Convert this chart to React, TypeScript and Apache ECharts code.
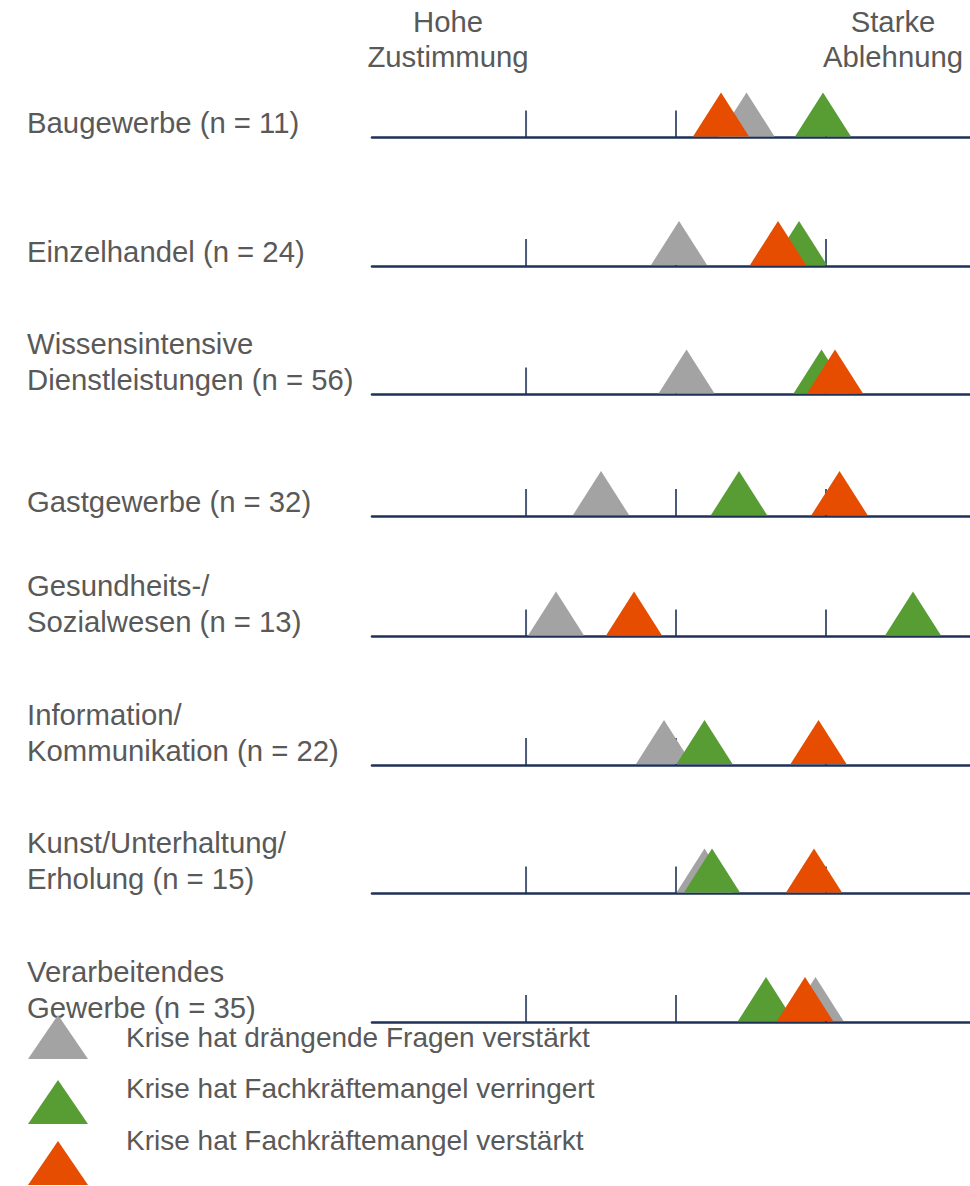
import React, { useEffect, useRef } from 'react';
import * as echarts from 'echarts';

// ---------- data ----------
const categories = [
  'Baugewerbe (n = 11)',
  'Einzelhandel (n = 24)',
  'Wissensintensive\nDienstleistungen (n = 56)',
  'Gastgewerbe (n = 32)',
  'Gesundheits-/\nSozialwesen (n = 13)',
  'Information/\nKommunikation (n = 22)',
  'Kunst/Unterhaltung/\nErholung (n = 15)',
  'Verarbeitendes\nGewerbe (n = 35)',
];
const seriesNames = [
  'Krise hat drängende Fragen verstärkt',
  'Krise hat Fachkräftemangel verringert',
  'Krise hat Fachkräftemangel verstärkt',
];
const grayValues = [3.47, 3.02, 3.07, 2.5, 2.2, 2.92, 3.19, 3.93];
const greenValues = [3.98, 3.82, 3.97, 3.42, 4.58, 3.19, 3.24, 3.6];
const orangeValues = [3.3, 3.68, 4.06, 4.09, 2.72, 3.95, 3.92, 3.86];
const tickValues = [2, 3, 4];
const headerLeft = 'Hohe\nZustimmung';
const headerRight = 'Starke\nAblehnung';

// ---------- layout / style ----------
const W = 970;
const H = 1186;
const ROW_LINE_Y = [137.5, 266, 394.5, 516, 636.5, 765, 893.5, 1022];
const GRID_LEFT = 372;
const GRID_W = 598;
const X_MIN = 0.973;
const X_MAX = 4.96;
const NAVY = '#1f3157';
const TEXT = '#595959';
const COLORS = ['#a3a3a3', '#589d34', '#e64d00'];
const FONT = 'Liberation Sans, Arial, sans-serif';
const LABEL_SIZE = 29.3;
const TRI_W = 56;
const TRI_H = 44;
const LEGEND_TRI_TOP = [1015, 1080, 1141];
const LEGEND_TRI_W = 60;
const LEGEND_TRI_H = 44;

export default function App() {
  const ref = useRef<HTMLDivElement>(null);
  useEffect(() => {
    if (!ref.current) return;
    const chart = echarts.init(ref.current, undefined, { renderer: 'svg' });
    const valueSets = [grayValues, greenValues, orangeValues];

    const grid: any[] = [];
    const xAxis: any[] = [];
    const yAxis: any[] = [];
    const series: any[] = [];
    const graphic: any[] = [];

    ROW_LINE_Y.forEach((ly, i) => {
      grid.push({ left: GRID_LEFT, width: GRID_W, top: ly - 60, height: 60 });
      xAxis.push({
        type: 'value',
        gridIndex: i,
        min: X_MIN,
        max: X_MAX,
        axisLine: { show: true, lineStyle: { color: NAVY, width: 2.6 } },
        axisTick: { show: false },
        axisLabel: { show: false },
        splitLine: { show: false },
      });
      yAxis.push({
        type: 'value',
        gridIndex: i,
        min: 0,
        max: 1,
        show: false,
      });
      series.push({
        type: 'scatter',
        xAxisIndex: i,
        yAxisIndex: i,
        silent: true,
        clip: false,
        symbol: 'rect',
        symbolSize: [2, 27],
        symbolOffset: [0, -13.5],
        itemStyle: { color: NAVY },
        data: tickValues.map((v) => [v, 0]),
        z: 1,
      });
      valueSets.forEach((vals, k) => {
        series.push({
          type: 'scatter',
          name: seriesNames[k],
          xAxisIndex: i,
          yAxisIndex: i,
          silent: true,
          clip: false,
          symbol: 'triangle',
          symbolSize: [TRI_W, TRI_H],
          symbolOffset: [0, -TRI_H / 2 - 1],
          itemStyle: { color: COLORS[k], opacity: 1 },
          data: [[vals[i], 0]],
          z: 2 + k,
        });
      });
      const nLines = categories[i].split('\n').length;
      graphic.push({
        type: 'text',
        left: 27,
        top: ly + 3 - nLines * 36,
        style: {
          text: categories[i],
          font: `${LABEL_SIZE}px ${FONT}`,
          fill: TEXT,
          lineHeight: 36,
          textAlign: 'left',
          align: 'left',
        },
      });
    });

    [
      { text: headerLeft, x: 448 },
      { text: headerRight, x: 893 },
    ].forEach((h) => {
      graphic.push({
        type: 'text',
        x: h.x,
        y: 4,
        style: {
          text: h.text,
          font: `${LABEL_SIZE}px ${FONT}`,
          fill: TEXT,
          lineHeight: 35,
          textAlign: 'center',
          align: 'center',
          textVerticalAlign: 'top',
          verticalAlign: 'top',
        },
      });
    });

    // legend markers (placed separately from legend texts, as in the original)
    LEGEND_TRI_TOP.forEach((t, k) => {
      graphic.push({
        type: 'polygon',
        shape: {
          points: [
            [28 + LEGEND_TRI_W / 2, t],
            [28 + LEGEND_TRI_W, t + LEGEND_TRI_H],
            [28, t + LEGEND_TRI_H],
          ],
        },
        style: { fill: COLORS[k] },
        silent: true,
      });
    });

    chart.setOption({
      animation: false,
      backgroundColor: '#ffffff',
      grid,
      xAxis,
      yAxis,
      series,
      graphic,
      legend: {
        data: seriesNames,
        orient: 'vertical',
        left: 28,
        top: 1015,
        padding: 0,
        itemWidth: 60,
        itemHeight: 44,
        itemGap: 7.5,
        icon: 'triangle',
        symbolKeepAspect: false,
        selectedMode: false,
        itemStyle: { opacity: 0 },
        textStyle: {
          fontSize: 28,
          fontFamily: FONT,
          color: TEXT,
          padding: [0, 0, 0, 33],
        },
      },
    });
    return () => chart.dispose();
  }, []);

  return (
    <div
      ref={ref}
      style={{ position: 'fixed', left: 0, top: 0, width: W, height: H, background: '#fff' }}
    />
  );
}
